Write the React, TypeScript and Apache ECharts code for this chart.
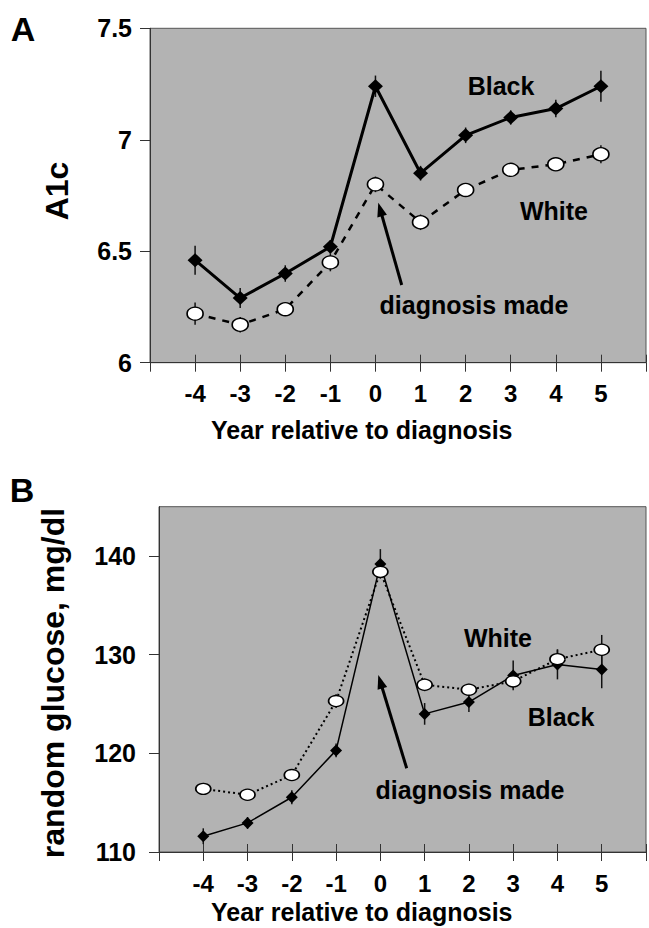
import React, { useEffect, useRef } from "react";
import * as echarts from "echarts";

const years = [-4, -3, -2, -1, 0, 1, 2, 3, 4, 5];
const a1cBlack = [6.46, 6.29, 6.4, 6.52, 7.24, 6.85, 7.02, 7.1, 7.14, 7.24];
const a1cBlackErr = [0.065, 0.045, 0.037, 0.03, 0.048, 0.033, 0.035, 0.032, 0.039, 0.07];
const a1cWhite = [6.22, 6.17, 6.24, 6.45, 6.8, 6.63, 6.775, 6.865, 6.89, 6.935];
const a1cWhiteErr = [0.05, 0.035, 0.03, 0.04, 0.035, 0.035, 0.03, 0.03, 0.03, 0.04];
const gluBlack = [111.6, 112.95, 115.55, 120.3, 139.2, 124.0, 125.2, 127.9, 129.0, 128.5];
const gluBlackErr = [0.8, 0.6, 0.7, 0.7, 1.5, 1.1, 1.0, 1.5, 1.5, 1.9];
const gluWhite = [116.4, 115.8, 117.8, 125.3, 138.4, 126.95, 126.45, 127.3, 129.55, 130.5];
const gluWhiteErr = [0.6, 0.5, 0.6, 0.7, 0.6, 0.65, 0.6, 0.7, 1.0, 1.5];
const a1cTicks = [6, 6.5, 7, 7.5];
const gluTicks = [110, 120, 130, 140];

const FONT = "'Liberation Sans', Arial, Helvetica, sans-serif";

function arrow(x1: number, y1: number, x2: number, y2: number) {
  const dx = x2 - x1;
  const dy = y2 - y1;
  const len = Math.sqrt(dx * dx + dy * dy);
  const ux = dx / len;
  const uy = dy / len;
  const hl = 14;
  const hw = 5;
  const bx = x2 - ux * hl;
  const by = y2 - uy * hl;
  return [
    {
      type: "line",
      shape: { x1, y1, x2: bx + ux * 2, y2: by + uy * 2 },
      style: { stroke: "#000", lineWidth: 3 },
      z: 100,
    },
    {
      type: "polygon",
      shape: {
        points: [
          [x2, y2],
          [bx - uy * hw, by + ux * hw],
          [bx + uy * hw, by - ux * hw],
        ],
      },
      style: { fill: "#000" },
      z: 100,
    },
  ];
}

function txt(text: string, x: number, y: number, size: number, extra: any = {}) {
  return {
    type: "text",
    x,
    y,
    z: 100,
    ...extra,
    style: {
      text,
      fill: "#000",
      font: `bold ${size}px ${FONT}`,
      align: extra.align || "center",
      verticalAlign: "middle",
    },
  };
}

function errSeries(xi: number, yi: number, vals: number[], errs: number[]) {
  return {
    type: "custom",
    xAxisIndex: xi,
    yAxisIndex: yi,
    z: 1,
    data: years.map((x, i) => [x, vals[i], errs[i]]),
    encode: { x: 0, y: 1 },
    renderItem: (params: any, api: any) => {
      const x = api.value(0);
      const y = api.value(1);
      const e = api.value(2);
      const p1 = api.coord([x, y - e]);
      const p2 = api.coord([x, y + e]);
      return {
        type: "line",
        shape: { x1: p1[0], y1: p1[1], x2: p2[0], y2: p2[1] },
        style: { stroke: "#111", lineWidth: 1.5 },
      };
    },
  };
}

function xAxes(grid: number) {
  return [
    {
      type: "value",
      gridIndex: grid,
      min: -5,
      max: 6,
      interval: 1,
      position: "bottom",
      axisLine: { show: true, onZero: false, lineStyle: { color: "#333", width: 1 } },
      axisTick: { show: true, inside: false, length: 9, lineStyle: { color: "#333", width: 1 } },
      splitLine: { show: false },
      axisLabel: {
        show: true,
        margin: 19,
        color: "#000",
        fontFamily: FONT,
        fontWeight: "bold",
        fontSize: 24,
        formatter: (v: number) => (years.indexOf(v) >= 0 ? String(v) : ""),
      },
    },
    {
      type: "value",
      gridIndex: grid,
      min: -5,
      max: 6,
      interval: 1,
      position: "bottom",
      axisLine: { show: false, onZero: false },
      axisTick: { show: true, inside: true, length: 8, lineStyle: { color: "#333", width: 1 } },
      splitLine: { show: false },
      axisLabel: { show: false },
    },
  ];
}

export default function App() {
  const ref = useRef<HTMLDivElement>(null);
  useEffect(() => {
    if (!ref.current) return;
    const chart = echarts.init(ref.current, undefined, { renderer: "svg" });
    const option: any = {
      animation: false,
      backgroundColor: "#fff",
      grid: [
        {
          left: 150,
          top: 28.3,
          width: 498,
          height: 334.4,
          show: true,
          backgroundColor: "#b3b3b3",
          borderColor: "#555",
          borderWidth: 1,
        },
        {
          left: 159,
          top: 506.7,
          width: 491,
          height: 345.3,
          show: true,
          backgroundColor: "#b3b3b3",
          borderColor: "#555",
          borderWidth: 1,
        },
      ],
      xAxis: [...xAxes(0), ...xAxes(1)],
      yAxis: [
        {
          type: "value",
          gridIndex: 0,
          min: 6,
          max: 7.5,
          interval: 0.5,
          axisLine: { show: true, onZero: false, lineStyle: { color: "#333", width: 1 } },
          axisTick: { show: true, length: 10, lineStyle: { color: "#333" } },
          splitLine: { show: false },
          axisLabel: {
            margin: 18,
            color: "#000",
            fontFamily: FONT,
            fontWeight: "bold",
            fontSize: 25,
            formatter: (v: number) => (a1cTicks.indexOf(v) >= 0 ? String(v) : ""),
          },
        },
        {
          type: "value",
          gridIndex: 1,
          min: 110,
          max: 145,
          interval: 10,
          axisLine: { show: true, onZero: false, lineStyle: { color: "#333", width: 1 } },
          axisTick: { show: true, length: 10, lineStyle: { color: "#333" }, customValues: gluTicks },
          splitLine: { show: false },
          axisLabel: {
            margin: 23,
            color: "#000",
            fontFamily: FONT,
            fontWeight: "bold",
            fontSize: 25,
            customValues: gluTicks,
            formatter: (v: number) => (gluTicks.indexOf(v) >= 0 ? String(v) : ""),
          },
        },
      ],
      series: [
        errSeries(0, 0, a1cBlack, a1cBlackErr),
        errSeries(0, 0, a1cWhite, a1cWhiteErr),
        errSeries(2, 1, gluBlack, gluBlackErr),
        errSeries(2, 1, gluWhite, gluWhiteErr),
        {
          type: "line",
          xAxisIndex: 0,
          yAxisIndex: 0,
          z: 3,
          data: years.map((x, i) => [x, a1cBlack[i]]),
          symbol: "diamond",
          symbolSize: [15, 14],
          lineStyle: { color: "#000", width: 3 },
          itemStyle: { color: "#000" },
        },
        {
          type: "line",
          xAxisIndex: 0,
          yAxisIndex: 0,
          z: 4,
          data: years.map((x, i) => [x, a1cWhite[i]]),
          symbol: "circle",
          symbolSize: [16, 13],
          lineStyle: { color: "#000", width: 2.5, type: [7, 7] },
          itemStyle: { color: "#fff", borderColor: "#000", borderWidth: 1.5 },
        },
        {
          type: "line",
          xAxisIndex: 2,
          yAxisIndex: 1,
          z: 3,
          data: years.map((x, i) => [x, gluBlack[i]]),
          symbol: "diamond",
          symbolSize: [12, 12],
          lineStyle: { color: "#000", width: 1.5 },
          itemStyle: { color: "#000" },
        },
        {
          type: "line",
          xAxisIndex: 2,
          yAxisIndex: 1,
          z: 4,
          data: years.map((x, i) => [x, gluWhite[i]]),
          symbol: "circle",
          symbolSize: [15, 11],
          lineStyle: { color: "#000", width: 2, type: [2, 3] },
          itemStyle: { color: "#fff", borderColor: "#000", borderWidth: 1.5 },
        },
      ],
      graphic: [
        txt("A", 23, 29, 34),
        txt("B", 22, 490, 34),
        txt("A1c", 57, 191, 32, { rotation: Math.PI / 2 }),
        txt("random glucose, mg/dl", 53, 683, 32, { rotation: Math.PI / 2 }),
        txt("Year relative to diagnosis", 211, 430, 25, { align: "left" }),
        txt("Year relative to diagnosis", 211, 912, 25, { align: "left" }),
        txt("Black", 501, 86, 25),
        txt("White", 554, 211, 25),
        txt("diagnosis made", 474, 305, 25),
        ...arrow(401.7, 285, 378.3, 202.7),
        txt("White", 498, 637.5, 25),
        txt("Black", 561, 716.5, 25),
        txt("diagnosis made", 470, 790, 25),
        ...arrow(406.7, 768.3, 378.3, 675),
      ],
    };
    chart.setOption(option);
    return () => chart.dispose();
  }, []);
  return (
    <div
      ref={ref}
      style={{ position: "fixed", left: 0, top: 0, width: 649, height: 928, background: "#fff" }}
    />
  );
}
